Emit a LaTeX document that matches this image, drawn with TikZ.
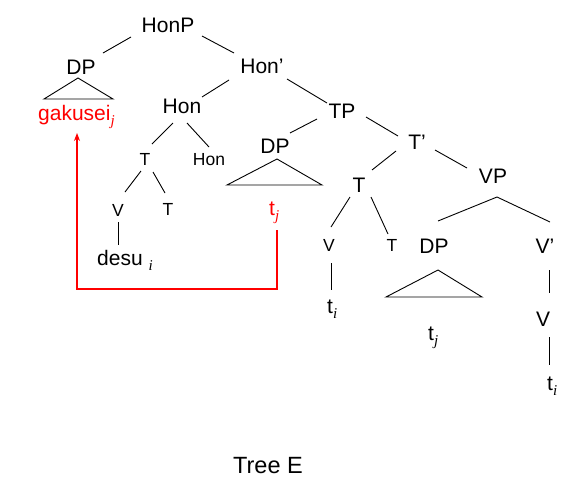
\documentclass[tikz,border=0pt]{standalone}
\usepackage{fontspec}
\setmainfont{Liberation Sans}
\newfontfamily\subfont{Liberation Serif}
\usetikzlibrary{arrows.meta}
\definecolor{mvred}{RGB}{255,0,0}
\newcommand\bigf{\fontsize{21}{25}\selectfont}
\newcommand\smallf{\fontsize{17.5}{21}\selectfont}
\newcommand\sbs[1]{\raisebox{-5pt}{\subfont\itshape\fontsize{15}{15}\selectfont #1}}
\begin{document}
\begin{tikzpicture}[x=1pt,y=-1pt,
  lab/.style={inner sep=0pt, anchor=base, font=\bigf},
  slab/.style={inner sep=0pt, anchor=base, font=\smallf},
  br/.style={line width=0.9pt},
  mv/.style={draw=mvred, line width=1.1pt, -{Stealth[length=8pt,width=6pt,fill=mvred]}}]
\useasboundingbox (0,0) rectangle (570,493);
% nodes
\node[lab] (HonP) at (168,32) {HonP};
\node[lab] (DP1) at (81,74) {DP};
\node[lab] (Honb) at (262,73) {Hon’};
\node[lab, anchor=base west, text=mvred] (gak) at (38,120) {gakusei\sbs{j}};
\node[lab] (Hon) at (182,113) {Hon};
\node[slab] (T1) at (145,165) {T};
\node[slab] (Hon2) at (209,165) {Hon};
\node[slab] (V1) at (118,216) {V};
\node[slab] (T2) at (168,215) {T};
\node[lab, anchor=base west] (desu) at (97,265) {desu \sbs{i}};
\node[lab] (DP2) at (275,153) {DP};
\node[lab, anchor=base west, text=mvred] (tj1) at (269,215) {t\sbs{j}};
\node[lab] (TP) at (342,118) {TP};
\node[lab] (Tb) at (417,149) {T’};
\node[lab] (T3) at (359,192) {T};
\node[lab] (VP) at (493,183) {VP};
\node[slab] (V2) at (329,251) {V};
\node[slab] (T4) at (392,251) {T};
\node[lab, anchor=base west] (ti1) at (327,313) {t\sbs{i}};
\node[lab] (DP3) at (434,253) {DP};
\node[lab] (Vb) at (545,253) {V’};
\node[lab, anchor=base west] (tj2) at (428,340) {t\sbs{j}};
\node[lab] (V3) at (543,326) {V};
\node[lab, anchor=base west] (ti2) at (547,390) {t\sbs{i}};
\node[lab, font=\fontsize{23.5}{28}\selectfont] (TreeE) at (268,473) {Tree E};
% branches
\draw[br] ([shift={(-37,5)}]HonP.base) -- ([shift={(22,-21)}]DP1.base);
\draw[br] ([shift={(34,4)}]HonP.base) -- ([shift={(-28,-20)}]Honb.base);
\draw[br] ([shift={(-33,7)}]Honb.base) -- ([shift={(20,-16)}]Hon.base);
\draw[br] ([shift={(25,6)}]Honb.base) -- ([shift={(-15,-15)}]TP.base);
\draw[br] ([shift={(-9,10)}]Hon.base) -- ([shift={(7,-21)}]T1.base);
\draw[br] ([shift={(5,10)}]Hon.base) -- ([shift={(0,-18)}]Hon2.base);
\draw[br] ([shift={(-4,6)}]T1.base) -- ([shift={(7,-24)}]V1.base);
\draw[br] ([shift={(8,7)}]T1.base) -- ([shift={(-3,-22)}]T2.base);
\draw[br] ([shift={(0,6)}]V1.base) -- ([shift={(21,-20)}]desu.base west);
\draw[br] ([shift={(-25,1)}]TP.base) -- ([shift={(15,-20)}]DP2.base);
\draw[br] ([shift={(24,-1)}]TP.base) -- ([shift={(-19,-13)}]Tb.base);
\draw[br] ([shift={(-21,2)}]Tb.base) -- ([shift={(13,-22)}]T3.base);
\draw[br] ([shift={(18,1)}]Tb.base) -- ([shift={(-26,-15)}]VP.base);
\draw[br] ([shift={(-9,5)}]T3.base) -- ([shift={(2,-24)}]V2.base);
\draw[br] ([shift={(12,5)}]T3.base) -- ([shift={(-4,-17)}]T4.base);
\draw[br] ([shift={(2,12)}]V2.base) -- ([shift={(4,-23)}]ti1.base west);
\coordinate (VPapex) at ([shift={(4,14)}]VP.base);
\draw[br] ([shift={(4,-32)}]DP3.base) -- (VPapex) -- ([shift={(5,-31)}]Vb.base);
\draw[br] ([shift={(4,17)}]Vb.base) -- ([shift={(6,-33)}]V3.base);
\draw[br] ([shift={(6,11)}]V3.base) -- ([shift={(2,-25)}]ti2.base west);
% triangles
\draw[br] ([shift={(-3,4)}]DP1.base) -- ([shift={(-37,25)}]DP1.base) -- ([shift={(32,25)}]DP1.base) -- cycle;
\draw[br] ([shift={(2,6)}]DP2.base) -- ([shift={(-48,32)}]DP2.base) -- ([shift={(47,32)}]DP2.base) -- cycle;
\draw[br] ([shift={(4,17)}]DP3.base) -- ([shift={(-48,44)}]DP3.base) -- ([shift={(48,44)}]DP3.base) -- cycle;
% movement arrow
\draw[mv] ([shift={(8,15)}]tj1.base west) -- ++(0,59) -| ([shift={(39,13)}]gak.base west);
\end{tikzpicture}
\end{document}
